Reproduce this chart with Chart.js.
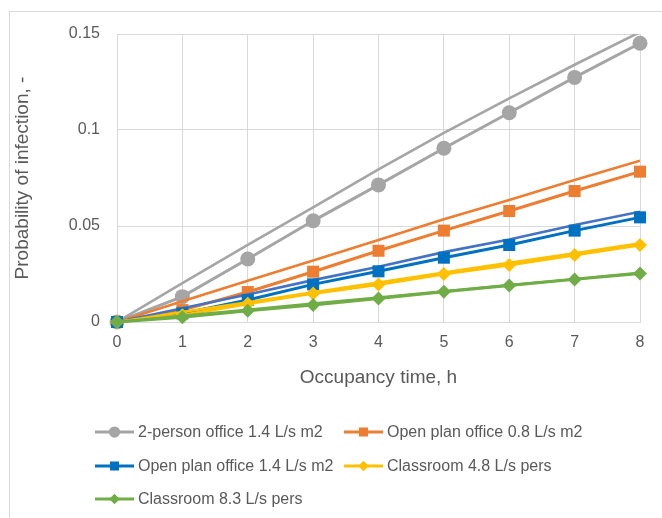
<!DOCTYPE html>
<html>
<head>
<meta charset="utf-8">
<script src="https://cdn.jsdelivr.net/npm/chart.js@4/dist/chart.umd.min.js"></script>
<style>
  html, body { margin: 0; padding: 0; background: #ffffff; }
  #wrap { position: relative; width: 662px; height: 518px; }
</style>
</head>
<body>
<div id="wrap"><canvas id="c" width="662" height="518"></canvas></div>
<script>
// Occupancy time (h) on the x axis
const hours = [0, 1, 2, 3, 4, 5, 6, 7, 8];
const yTicks = [0, 0.05, 0.1, 0.15];

// Simulated probability of infection, hourly points (marker series)
const office2p14 = [0, 0.0132, 0.0328, 0.0527, 0.0714, 0.0905, 0.1090, 0.1274, 0.1452];
const openPlan08 = [0, 0.0062, 0.0156, 0.0262, 0.0371, 0.0476, 0.0578, 0.0682, 0.0783];
const openPlan14 = [0, 0.0045, 0.0115, 0.0196, 0.0264, 0.0335, 0.0401, 0.0476, 0.0545];
const classroom48 = [0, 0.0035, 0.0095, 0.0149, 0.0195, 0.0250, 0.0297, 0.0349, 0.0401];
const classroom83 = [0, 0.0025, 0.0058, 0.0089, 0.0123, 0.0157, 0.0190, 0.0222, 0.0253];

// Steady-state reference curves (plain lines, no markers)
const office2p14Ref = [0, 0.0202, 0.0402, 0.0597, 0.0795, 0.0985, 0.1165, 0.1340, 0.1510];
const openPlan08Ref = [0, 0.0108, 0.0215, 0.0320, 0.0427, 0.0535, 0.0635, 0.0740, 0.0840];
const openPlan14Ref = [0, 0.0072, 0.0143, 0.0218, 0.0288, 0.0364, 0.0430, 0.0505, 0.0574];
const classroom48Ref = [0, 0.0052, 0.0103, 0.0155, 0.0205, 0.0257, 0.0308, 0.0358, 0.0410];
const classroom83Ref = [0, 0.0032, 0.0064, 0.0096, 0.0128, 0.0160, 0.0192, 0.0224, 0.0256];

const seriesNames = [
  '2-person office 1.4 L/s m2',
  'Open plan office 0.8 L/s m2',
  'Open plan office 1.4 L/s m2',
  'Classroom 4.8 L/s pers',
  'Classroom 8.3 L/s pers'
];

const FONT = "'Liberation Sans', Arial, sans-serif";
const TEXT = '#595959';
const GRID = '#d9d9d9';

function markerSeries(label, data, color, style, radius, order) {
  return {
    label, data, order,
    borderColor: color, backgroundColor: color,
    borderWidth: 3, pointStyle: style,
    pointRadius: radius, pointHoverRadius: radius,
    pointBorderWidth: 0, pointBackgroundColor: color,
    tension: 0, clip: false, inLegend: true
  };
}
function refSeries(label, data, color, order) {
  return {
    label, data, order,
    borderColor: color, backgroundColor: color,
    borderWidth: 2.6, pointRadius: 0, pointHoverRadius: 0,
    tension: 0, inLegend: false
  };
}

const datasets = [
  markerSeries(seriesNames[4], classroom83, '#70ad47', 'rectRot', 7, 0),
  refSeries(seriesNames[4] + ' (ref)', classroom83Ref, '#70ad47', 1),
  refSeries(seriesNames[3] + ' (ref)', classroom48Ref, '#ffc000', 2),
  markerSeries(seriesNames[3], classroom48, '#ffc000', 'rectRot', 7, 3),
  markerSeries(seriesNames[2], openPlan14, '#0070c0', 'rect', 8.5, 4),
  refSeries(seriesNames[2] + ' (ref)', openPlan14Ref, '#4472c4', 5),
  markerSeries(seriesNames[1], openPlan08, '#ed7d31', 'rect', 8.5, 6),
  refSeries(seriesNames[1] + ' (ref)', openPlan08Ref, '#ed7d31', 7),
  markerSeries(seriesNames[0], office2p14, '#a5a5a5', 'circle', 7.5, 8),
  refSeries(seriesNames[0] + ' (ref)', office2p14Ref, '#a5a5a5', 9)
];

// Outer frame of the chart object
const framePlugin = {
  id: 'frame',
  beforeDraw(chart) {
    const ctx = chart.ctx;
    ctx.save();
    ctx.fillStyle = '#ffffff';
    ctx.fillRect(0, 0, chart.width, chart.height);
    ctx.strokeStyle = GRID;
    ctx.lineWidth = 1;
    ctx.strokeRect(9.5, 11.5, 800, 700);
    ctx.restore();
  }
};

// Two-column legend laid out on a grid
const gridLegend = {
  id: 'gridLegend',
  afterDraw(chart) {
    const ctx = chart.ctx;
    const order = [0, 1, 2, 3, 4];
    const cols = [95, 344];
    const rows = [432, 466, 499];
    ctx.save();
    order.forEach((k, i) => {
      const ds = chart.data.datasets.find(d => d.inLegend && d.label === seriesNames[k]);
      const x = cols[i % 2];
      const y = rows[Math.floor(i / 2)];
      ctx.strokeStyle = ds.borderColor;
      ctx.lineWidth = 3;
      ctx.beginPath();
      ctx.moveTo(x, y);
      ctx.lineTo(x + 39, y);
      ctx.stroke();
      ctx.fillStyle = ds.borderColor;
      ctx.strokeStyle = ds.borderColor;
      Chart.helpers.drawPoint(ctx, {
        pointStyle: ds.pointStyle,
        radius: ds.pointRadius * 0.75,
        rotation: 0,
        borderWidth: 0
      }, x + 19.5, y);
      ctx.fillStyle = TEXT;
      ctx.font = '16px ' + FONT;
      ctx.textBaseline = 'middle';
      ctx.textAlign = 'left';
      ctx.fillText(ds.label, x + 43, y + 1);
    });
    ctx.restore();
  }
};

new Chart(document.getElementById('c'), {
  type: 'line',
  data: { labels: hours, datasets },
  options: {
    responsive: false,
    animation: false,
    events: [],
    layout: { padding: { left: 0, right: 22, top: 34, bottom: 126 } },
    plugins: { legend: { display: false }, tooltip: { enabled: false } },
    scales: {
      x: {
        type: 'linear',
        min: 0, max: 8,
        afterFit(s) { s.height = 70; },
        afterBuildTicks(s) { s.ticks = hours.map(v => ({ value: v })); },
        grid: { color: GRID, lineWidth: 1, drawTicks: false },
        border: { color: GRID, width: 1 },
        ticks: { color: TEXT, font: { family: FONT, size: 16 }, padding: 11, maxRotation: 0 },
        title: {
          display: true, text: 'Occupancy time, h', color: TEXT,
          font: { family: FONT, size: 19 }, padding: { top: 0, bottom: 3 }
        }
      },
      y: {
        min: 0, max: 0.15,
        afterFit(s) { s.width = 117; },
        afterBuildTicks(s) { s.ticks = yTicks.map(v => ({ value: v })); },
        grid: { color: GRID, lineWidth: 1, drawTicks: false },
        border: { color: GRID, width: 1 },
        ticks: {
          color: TEXT, font: { family: FONT, size: 16 }, padding: 17,
          callback: v => String(Math.round(v * 100) / 100)
        },
        title: {
          display: true, text: 'Probability of infection, -', color: TEXT,
          font: { family: FONT, size: 19 }, padding: { top: 11, bottom: 0 }
        }
      }
    }
  },
  plugins: [framePlugin, gridLegend]
});
</script>
</body>
</html>
